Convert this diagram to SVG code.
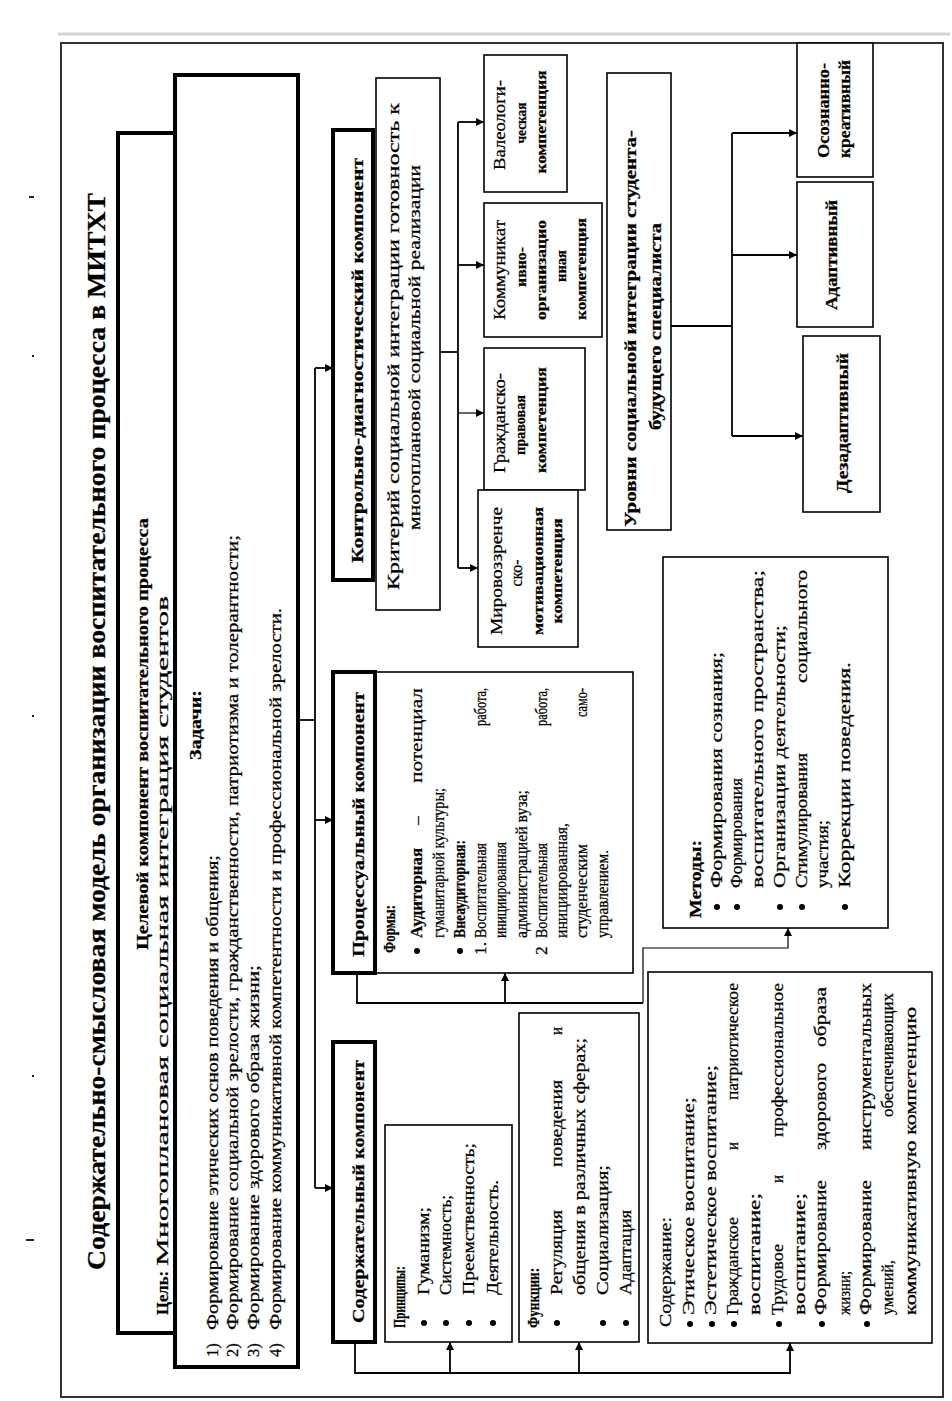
<svg xmlns="http://www.w3.org/2000/svg" width="952" height="1401" viewBox="0 0 952 1401">
<style>
text{font-family:"Liberation Serif","Times New Roman",serif;font-size:16.5px;fill:#000;stroke:#000;stroke-width:0.25}
.b{font-weight:bold}
.t{font-size:25px;font-weight:bold}
.h{font-size:17px;font-weight:bold}
.s{font-size:14px;font-weight:bold}
.f{font-size:17.5px}
.box{fill:#fff;stroke:#000;stroke-width:1.6}
.thick{fill:#fff;stroke:#000;stroke-width:4}
.ln{fill:none;stroke:#000;stroke-width:1.8}
.thin{fill:none;stroke:#000;stroke-width:1.2}
.dot{fill:#000}
</style>
<defs>
<marker id="ah" viewBox="0 0 10 10" refX="10" refY="5" markerWidth="9" markerHeight="8" markerUnits="userSpaceOnUse" orient="auto">
<path d="M0,0 L10,5 L0,10 z" fill="#000"/>
</marker>
</defs>
<rect width="952" height="1401" fill="#fff"/>
<line x1="58" y1="34" x2="950" y2="34" stroke="#d4d4d4" stroke-width="3"/>
<rect x="61" y="43" width="882" height="1354" fill="none" stroke="#333" stroke-width="2"/>
<g id="marks" fill="#222">
<rect x="29" y="196" width="5" height="2"/>
<rect x="32" y="355" width="2" height="2"/>
<rect x="32" y="715" width="2" height="2"/>
<rect x="32" y="1075" width="2" height="2"/>
<rect x="26" y="1239" width="8" height="2"/>
</g>
<g transform="translate(0,1401) rotate(-90)">
<g id="title">
<text class="t" x="669.5" y="105" text-anchor="middle" textLength="1077" lengthAdjust="spacingAndGlyphs">Содержательно-смысловая модель организации воспитательного процесса в МИТХТ</text>
</g>
<g id="goal">
<rect class="thick" x="68" y="118" width="1200" height="57"/>
<text class="b" x="667" y="148" text-anchor="middle" textLength="432" lengthAdjust="spacingAndGlyphs">Целевой компонент воспитательного процесса</text>
<text class="b" x="86" y="168" textLength="44" lengthAdjust="spacingAndGlyphs">Цель:</text>
<text x="135" y="168" textLength="670" lengthAdjust="spacingAndGlyphs">Многоплановая социальная интеграция студентов</text>
</g>
<g id="tasks">
<rect class="thick" x="34" y="175" width="1292" height="123"/>
<text class="b" x="676" y="201" text-anchor="middle" textLength="70" lengthAdjust="spacingAndGlyphs">Задачи:</text>
<text x="44" y="218">1)</text>
<text x="44" y="238">2)</text>
<text x="44" y="259">3)</text>
<text x="44" y="281">4)</text>
<text x="71" y="218" textLength="475" lengthAdjust="spacingAndGlyphs">Формирование этических основ поведения и общения;</text>
<text x="71" y="238" textLength="795" lengthAdjust="spacingAndGlyphs">Формирование социальной зрелости, гражданственности, патриотизма и толерантности;</text>
<text x="71" y="259" textLength="365" lengthAdjust="spacingAndGlyphs">Формирование здорового образа жизни;</text>
<text x="71" y="281" textLength="722" lengthAdjust="spacingAndGlyphs">Формирование коммуникативной компетентности и профессиональной зрелости.</text>
</g>
<g id="content-comp">
<rect class="thick" x="59" y="333" width="300" height="42"/>
<text class="h" x="78" y="364" textLength="263" lengthAdjust="spacingAndGlyphs">Содержательный  компонент</text>
</g>
<g id="principles">
<rect class="box" x="59" y="385" width="217" height="127"/>
<text class="b" x="73" y="405" textLength="62" lengthAdjust="spacingAndGlyphs">Принципы:</text>
<circle class="dot" cx="78" cy="424" r="3"/>
<circle class="dot" cx="78" cy="446" r="3"/>
<circle class="dot" cx="78" cy="469" r="3"/>
<circle class="dot" cx="78" cy="493" r="3"/>
<text x="106" y="429" textLength="88" lengthAdjust="spacingAndGlyphs">Гуманизм;</text>
<text x="106" y="451" textLength="100" lengthAdjust="spacingAndGlyphs">Системность;</text>
<text x="106" y="474" textLength="152" lengthAdjust="spacingAndGlyphs">Преемственность;</text>
<text x="106" y="498" textLength="115" lengthAdjust="spacingAndGlyphs">Деятельность.</text>
</g>
<g id="functions">
<rect class="box" x="59" y="519" width="329" height="120"/>
<text class="b" x="73" y="539" textLength="60" lengthAdjust="spacingAndGlyphs">Функции:</text>
<circle class="dot" cx="78" cy="557" r="3"/>
<circle class="dot" cx="78" cy="603" r="3"/>
<circle class="dot" cx="78" cy="626" r="3"/>
<text x="106" y="562" textLength="85" lengthAdjust="spacingAndGlyphs">Регуляция</text>
<text x="234" y="562" textLength="87" lengthAdjust="spacingAndGlyphs">поведения</text>
<text x="366" y="562" textLength="8" lengthAdjust="spacingAndGlyphs">и</text>
<text x="106" y="585" textLength="257" lengthAdjust="spacingAndGlyphs">общения в различных сферах;</text>
<text x="106" y="608" textLength="130" lengthAdjust="spacingAndGlyphs">Социализация;</text>
<text x="106" y="631" textLength="85" lengthAdjust="spacingAndGlyphs">Адаптация</text>
</g>
<g id="content">
<rect class="box" x="58" y="648" width="371" height="284"/>
<text x="74" y="671" textLength="110" lengthAdjust="spacingAndGlyphs">Содержание:</text>
<circle class="dot" cx="77" cy="690" r="3"/>
<circle class="dot" cx="77" cy="712" r="3"/>
<circle class="dot" cx="77" cy="734" r="3"/>
<circle class="dot" cx="77" cy="779" r="3"/>
<circle class="dot" cx="77" cy="822" r="3"/>
<circle class="dot" cx="77" cy="867" r="3"/>
<text x="86" y="694" textLength="218" lengthAdjust="spacingAndGlyphs">Этическое воспитание;</text>
<text x="86" y="716" textLength="250" lengthAdjust="spacingAndGlyphs">Эстетическое воспитание;</text>
<text x="86" y="738" textLength="98" lengthAdjust="spacingAndGlyphs">Гражданское</text>
<text x="251" y="738" textLength="8" lengthAdjust="spacingAndGlyphs">и</text>
<text x="301" y="738" textLength="117" lengthAdjust="spacingAndGlyphs">патриотическое</text>
<text x="86" y="760" textLength="122" lengthAdjust="spacingAndGlyphs">воспитание;</text>
<text x="86" y="783" textLength="71" lengthAdjust="spacingAndGlyphs">Трудовое</text>
<text x="218" y="783" textLength="8" lengthAdjust="spacingAndGlyphs">и</text>
<text x="264" y="783" textLength="154" lengthAdjust="spacingAndGlyphs">профессиональное</text>
<text x="86" y="805" textLength="122" lengthAdjust="spacingAndGlyphs">воспитание;</text>
<text x="86" y="826" textLength="135" lengthAdjust="spacingAndGlyphs">Формирование</text>
<text x="251" y="826" textLength="87" lengthAdjust="spacingAndGlyphs">здорового</text>
<text x="354" y="826" textLength="60" lengthAdjust="spacingAndGlyphs">образа</text>
<text x="86" y="850" textLength="44" lengthAdjust="spacingAndGlyphs">жизни;</text>
<text x="86" y="871" textLength="135" lengthAdjust="spacingAndGlyphs">Формирование</text>
<text x="251" y="871" textLength="167" lengthAdjust="spacingAndGlyphs">инструментальных</text>
<text x="86" y="893" textLength="55" lengthAdjust="spacingAndGlyphs">умений,</text>
<text x="284" y="893" textLength="124" lengthAdjust="spacingAndGlyphs">обеспечивающих</text>
<text x="86" y="916" textLength="308" lengthAdjust="spacingAndGlyphs">коммуникативную компетенцию</text>
</g>
<g id="process-comp">
<rect class="box" x="428" y="333" width="301" height="300"/>
<rect class="thick" x="428" y="333" width="301" height="42"/>
<text class="h" x="444" y="364" textLength="265" lengthAdjust="spacingAndGlyphs">Процессуальный  компонент</text>
<text class="b f" x="448" y="395" textLength="48" lengthAdjust="spacingAndGlyphs">Формы:</text>
<circle class="dot" cx="450" cy="417" r="3"/>
<text class="b f" x="463" y="422" textLength="90" lengthAdjust="spacingAndGlyphs">Аудиторная</text>
<text class="f" x="576" y="422">–</text>
<text class="f" x="618" y="422" textLength="95" lengthAdjust="spacingAndGlyphs">потенциал</text>
<text class="f" x="463" y="444" textLength="150" lengthAdjust="spacingAndGlyphs">гуманитарной культуры;</text>
<circle class="dot" cx="450" cy="460" r="3"/>
<text class="b f" x="463" y="465" textLength="98" lengthAdjust="spacingAndGlyphs">Внеаудиторная:</text>
<text class="f" x="446" y="486">1.</text>
<text class="f" x="463" y="486" textLength="95" lengthAdjust="spacingAndGlyphs">Воспитательная</text>
<text class="f" x="675" y="486" textLength="38" lengthAdjust="spacingAndGlyphs">работа,</text>
<text class="f" x="463" y="506" textLength="96" lengthAdjust="spacingAndGlyphs">инициированная</text>
<text class="f" x="463" y="527" textLength="148" lengthAdjust="spacingAndGlyphs">администрацией вуза;</text>
<text class="f" x="446" y="547">2</text>
<text class="f" x="463" y="547" textLength="95" lengthAdjust="spacingAndGlyphs">Воспитательная</text>
<text class="f" x="675" y="547" textLength="38" lengthAdjust="spacingAndGlyphs">работа,</text>
<text class="f" x="463" y="567" textLength="115" lengthAdjust="spacingAndGlyphs">инициированная,</text>
<text class="f" x="463" y="587" textLength="94" lengthAdjust="spacingAndGlyphs">студенческим</text>
<text class="f" x="684" y="587" textLength="29" lengthAdjust="spacingAndGlyphs">само-</text>
<text class="f" x="463" y="608" textLength="88" lengthAdjust="spacingAndGlyphs">управлением.</text>
</g>
<g id="methods">
<rect class="box" x="473" y="663" width="371" height="225"/>
<text class="b" x="483" y="701" textLength="78" lengthAdjust="spacingAndGlyphs">Методы:</text>
<circle class="dot" cx="494" cy="717" r="3"/>
<circle class="dot" cx="494" cy="737" r="3"/>
<circle class="dot" cx="494" cy="780" r="3"/>
<circle class="dot" cx="494" cy="802" r="3"/>
<circle class="dot" cx="494" cy="845" r="3"/>
<text x="513" y="722" textLength="236" lengthAdjust="spacingAndGlyphs">Формирования сознания;</text>
<text x="513" y="742" textLength="110" lengthAdjust="spacingAndGlyphs">Формирования</text>
<text x="513" y="763" textLength="318" lengthAdjust="spacingAndGlyphs">воспитательного пространства;</text>
<text x="513" y="785" textLength="263" lengthAdjust="spacingAndGlyphs">Организации деятельности;</text>
<text x="513" y="807" textLength="135" lengthAdjust="spacingAndGlyphs">Стимулирования</text>
<text x="718" y="807" textLength="113" lengthAdjust="spacingAndGlyphs">социального</text>
<text x="513" y="828" textLength="68" lengthAdjust="spacingAndGlyphs">участия;</text>
<text x="513" y="850" textLength="226" lengthAdjust="spacingAndGlyphs">Коррекции поведения.</text>
</g>
<g id="control-comp">
<rect class="thick" x="821" y="333" width="450" height="40"/>
<text class="h" x="838" y="363" textLength="405" lengthAdjust="spacingAndGlyphs">Контрольно-диагностический  компонент</text>
</g>
<g id="criterion">
<rect class="box" x="791" y="376" width="532" height="64" stroke-width="1.4"/>
<text x="811" y="399" textLength="487" lengthAdjust="spacingAndGlyphs">Критерий социальной интеграции  готовность к</text>
<text x="1053.5" y="420" text-anchor="middle" textLength="365" lengthAdjust="spacingAndGlyphs">многоплановой социальной реализации</text>
</g>
<g id="valeo">
<rect class="box" x="1209" y="484" width="137" height="83"/>
<text x="1276" y="505" text-anchor="middle" textLength="90" lengthAdjust="spacingAndGlyphs">Валеологи-</text>
<text class="s" x="1278" y="526" text-anchor="middle" textLength="41" lengthAdjust="spacingAndGlyphs">ческая</text>
<text class="s" x="1279" y="546" text-anchor="middle" textLength="103" lengthAdjust="spacingAndGlyphs">компетенция</text>
</g>
<g id="commun">
<rect class="box" x="1064" y="484" width="134" height="118"/>
<text x="1131" y="505" text-anchor="middle" textLength="100" lengthAdjust="spacingAndGlyphs">Коммуникат</text>
<text class="s" x="1134" y="526" text-anchor="middle" textLength="40" lengthAdjust="spacingAndGlyphs">ивно-</text>
<text class="s" x="1131" y="546" text-anchor="middle" textLength="100" lengthAdjust="spacingAndGlyphs">организацио</text>
<text class="s" x="1135" y="566" text-anchor="middle" textLength="32" lengthAdjust="spacingAndGlyphs">нная</text>
<text class="s" x="1132" y="586" text-anchor="middle" textLength="102" lengthAdjust="spacingAndGlyphs">компетенция</text>
</g>
<g id="civic">
<rect class="box" x="911" y="484" width="142" height="101"/>
<text x="978" y="505" text-anchor="middle" textLength="100" lengthAdjust="spacingAndGlyphs">Гражданско-</text>
<text class="s" x="976" y="525" text-anchor="middle" textLength="60" lengthAdjust="spacingAndGlyphs">правовая</text>
<text class="s" x="981" y="546" text-anchor="middle" textLength="106" lengthAdjust="spacingAndGlyphs">компетенция</text>
</g>
<g id="worldview">
<rect class="box" x="754" y="478" width="157" height="100"/>
<text x="830" y="502" text-anchor="middle" textLength="128" lengthAdjust="spacingAndGlyphs">Мировоззренче</text>
<text x="828" y="522" text-anchor="middle" textLength="27" lengthAdjust="spacingAndGlyphs">ско-</text>
<text class="s" x="830" y="543" text-anchor="middle" textLength="128" lengthAdjust="spacingAndGlyphs">мотивационная</text>
<text class="s" x="830" y="562" text-anchor="middle" textLength="105" lengthAdjust="spacingAndGlyphs">компетенция</text>
</g>
<g id="levels">
<rect class="box" x="871" y="607" width="457" height="64"/>
<text class="h" x="874" y="636" textLength="397" lengthAdjust="spacingAndGlyphs">Уровни социальной интеграции студента-</text>
<text class="h" x="1074.5" y="661" text-anchor="middle" textLength="207" lengthAdjust="spacingAndGlyphs">будущего  специалиста</text>
</g>
<g id="creative">
<rect class="box" x="1224" y="797" width="134" height="76"/>
<text class="h" x="1243" y="829" textLength="95" lengthAdjust="spacingAndGlyphs">Осознанно-</text>
<text class="h" x="1243" y="850" textLength="98" lengthAdjust="spacingAndGlyphs">креативный</text>
</g>
<g id="adaptive">
<rect class="box" x="1074" y="797" width="145" height="76"/>
<text class="h" x="1146" y="837" text-anchor="middle" textLength="110" lengthAdjust="spacingAndGlyphs">Адаптивный</text>
</g>
<g id="desadaptive">
<rect class="box" x="889" y="803" width="176" height="77"/>
<text class="h" x="978" y="848" text-anchor="middle" textLength="140" lengthAdjust="spacingAndGlyphs">Дезадаптивный</text>
</g>
<g id="connectors">
<path class="ln" d="M681,298 L681,315"/>
<path class="ln" d="M213,315 L1033,315"/>
<path class="ln" d="M213,315 L213,333" marker-end="url(#ah)"/>
<path class="ln" d="M581,315 L581,333" marker-end="url(#ah)"/>
<path class="ln" d="M1033,315 L1033,333" marker-end="url(#ah)"/>
<path class="ln" d="M59,355 L28,355 L28,790 L58,790" marker-end="url(#ah)"/>
<path class="ln" d="M28,450 L59,450" marker-end="url(#ah)"/>
<path class="ln" d="M28,579 L59,579" marker-end="url(#ah)"/>
<path class="ln" d="M428,357 L398,357 L398,643"/>
<path class="thin" d="M398,643 L453,643 L453,788 L473,788" marker-end="url(#ah)"/>
<path class="ln" d="M398,505 L428,505" marker-end="url(#ah)"/>
<path class="ln" d="M1049,440 L1049,458"/>
<path class="ln" d="M833,458 L1279,458"/>
<path class="ln" d="M1279,458 L1279,484" marker-end="url(#ah)"/>
<path class="ln" d="M1136,458 L1136,484" marker-end="url(#ah)"/>
<path class="thin" d="M988,458 L988,484" marker-end="url(#ah)"/>
<path class="ln" d="M833,458 L833,478" marker-end="url(#ah)"/>
<path class="ln" d="M1075,671 L1075,732"/>
<path class="ln" d="M965,732 L1268,732"/>
<path class="ln" d="M1268,732 L1268,797" marker-end="url(#ah)"/>
<path class="ln" d="M1146,732 L1146,797" marker-end="url(#ah)"/>
<path class="ln" d="M965,732 L965,803" marker-end="url(#ah)"/>
</g>
</g>
</svg>
